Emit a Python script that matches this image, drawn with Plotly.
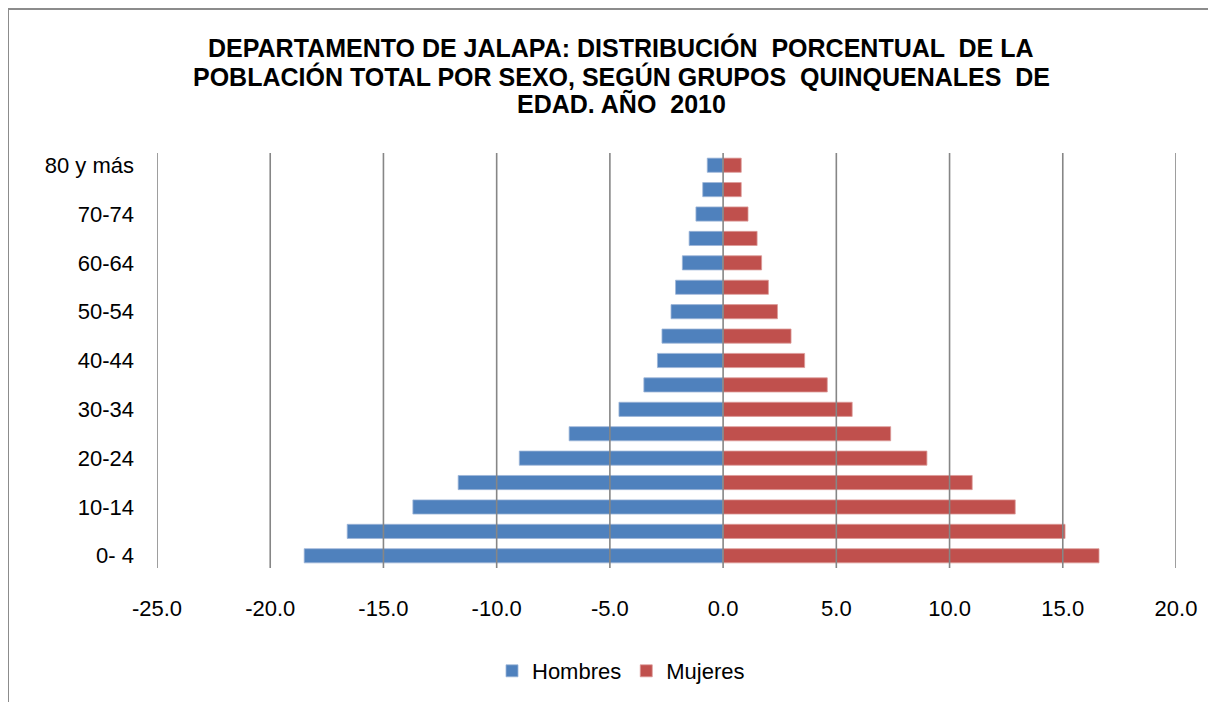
import plotly.graph_objects as go

# Data (percent of total population), ordered from youngest to oldest
age_groups = ["0- 4", "5-9", "10-14", "15-19", "20-24", "25-29", "30-34", "35-39",
              "40-44", "45-49", "50-54", "55-59", "60-64", "65-69", "70-74", "75-79",
              "80 y más"]
hombres = [-18.5, -16.6, -13.7, -11.7, -9.0, -6.8, -4.6, -3.5, -2.9, -2.7, -2.3,
           -2.1, -1.8, -1.5, -1.2, -0.9, -0.7]
mujeres = [16.6, 15.1, 12.9, 11.0, 9.0, 7.4, 5.7, 4.6, 3.6, 3.0, 2.4, 2.0, 1.7,
           1.5, 1.1, 0.8, 0.8]
x_ticks = [-25, -20, -15, -10, -5, 0, 5, 10, 15, 20]
y_tick_labels = age_groups[::2]

FONT = "Liberation Sans, Arial, sans-serif"

# page body has an 8px margin, so compensate
OFF = 8
plot_left, plot_right, plot_top, plot_bottom = 157, 1176, 153, 568
W, H = 1216, 702

fig = go.Figure()
fig.add_trace(go.Bar(
    y=age_groups, x=hombres, orientation="h", name="Hombres",
    marker=dict(color="#4F81BD", line=dict(color="#9DB5D8", width=0.8)),
))
fig.add_trace(go.Bar(
    y=age_groups, x=mujeres, orientation="h", name="Mujeres",
    marker=dict(color="#C0504D", line=dict(color="#DC9A98", width=0.8)),
))

pw = plot_right - plot_left
ph = plot_bottom - plot_top

def px_x(xpx):
    return (xpx - plot_left) / pw

def px_y(ypx):
    return (plot_bottom - ypx) / ph

# Gridlines drawn above the bars, as in the reference
shapes = []
for t in x_ticks:
    shapes.append(dict(type="line", xref="x", yref="paper", x0=t, x1=t, y0=0, y1=1,
                       line=dict(color="#868686", width=1.6), layer="above"))
# Chart border (top/left visible)
shapes.append(dict(type="rect", xref="paper", yref="paper",
                   x0=px_x(8), x1=1.2, y0=-0.6, y1=px_y(9),
                   line=dict(color="#8C8C8C", width=2), layer="below"))

title_lines = [
    "DEPARTAMENTO DE JALAPA: DISTRIBUCIÓN  PORCENTUAL  DE LA",
    "POBLACIÓN TOTAL POR SEXO, SEGÚN GRUPOS  QUINQUENALES  DE",
    "EDAD. AÑO  2010",
]
title_y_px = [47, 76, 104]
annotations = []
for line, ypx in zip(title_lines, title_y_px):
    annotations.append(dict(
        text="<b>" + line + "</b>", xref="paper", yref="paper",
        x=px_x(621), y=px_y(ypx),
        xanchor="center", yanchor="middle", showarrow=False,
        font=dict(family=FONT, size=25, color="black"),
    ))

fig.update_layout(
    width=W, height=H,
    margin=dict(l=plot_left - OFF, r=W - plot_right + OFF,
                t=plot_top - OFF, b=H - plot_bottom + OFF),
    paper_bgcolor="white", plot_bgcolor="white",
    barmode="relative", bargap=0.42,
    showlegend=True,
    legend=dict(orientation="h", x=px_x(621), xanchor="center",
                y=px_y(671), yanchor="middle",
                font=dict(family=FONT, size=22, color="black"),
                itemwidth=30, traceorder="normal"),
    font=dict(family=FONT, size=22, color="black"),
    shapes=shapes,
    annotations=annotations,
)
fig.update_xaxes(range=[-25, 20], tickvals=x_ticks,
                 ticktext=[f"{v:.1f}" for v in x_ticks],
                 showgrid=False, zeroline=False, showline=False, ticks="",
                 ticklabelstandoff=25,
                 tickfont=dict(family=FONT, size=22, color="black"))
fig.update_yaxes(type="category", categoryorder="array", categoryarray=age_groups,
                 tickvals=y_tick_labels, ticktext=y_tick_labels,
                 showgrid=False, zeroline=False, showline=False, ticks="",
                 ticklabelstandoff=22,
                 tickfont=dict(family=FONT, size=22, color="black"))

fig.write_html("out.html")
